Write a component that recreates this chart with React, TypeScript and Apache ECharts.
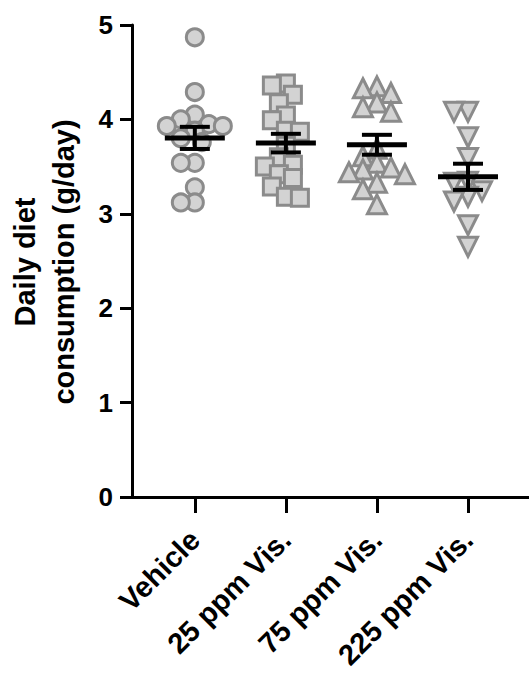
import React, { useEffect, useRef } from "react";
import * as echarts from "echarts";

// Group names shown under the x axis
const groups = ["Vehicle", "25 ppm Vis.", "75 ppm Vis.", "225 ppm Vis."];

// Daily diet consumption per animal (g/day)
const vehicle = [4.87, 4.29, 4.05, 4.0, 3.95, 3.93, 3.93, 3.88, 3.8, 3.76, 3.54, 3.54, 3.28, 3.12, 3.12];
const ppm25 = [4.38, 4.36, 4.26, 4.17, 4.04, 3.99, 3.88, 3.87, 3.72, 3.6, 3.52, 3.5, 3.42, 3.38, 3.29, 3.18, 3.17];
const ppm75 = [4.35, 4.33, 4.28, 4.18, 4.13, 4.08, 3.69, 3.61, 3.54, 3.49, 3.47, 3.44, 3.42, 3.33, 3.26, 3.1];
const ppm225 = [4.08, 4.08, 3.81, 3.59, 3.34, 3.33, 3.24, 3.18, 3.13, 2.88, 2.65];

const yTicks = [0, 1, 2, 3, 4, 5];

const FONT = '"Liberation Sans", Arial, Helvetica, sans-serif';
const FILL = "#d3d3d3";
const EDGE = "#8b8b8b";

function meanSem(v: number[]) {
  const n = v.length;
  const m = v.reduce((a, b) => a + b, 0) / n;
  const sd = Math.sqrt(v.reduce((a, b) => a + (b - m) * (b - m), 0) / (n - 1));
  return [m, sd / Math.sqrt(n)];
}

// Spread markers of similar value sideways (simple beeswarm in pixel units)
function swarm(values: number[], pxX: number, pxY: number, minDist: number, step: number) {
  const order = values.map((_, i) => i).sort((a, b) => values[b] - values[a]);
  const placed: { x: number; y: number }[] = [];
  const offsets = new Array(values.length).fill(0);
  for (const i of order) {
    const y = values[i] * pxY;
    for (let k = 0; k < 60; k++) {
      const m = k === 0 ? 0 : k % 2 === 1 ? -Math.ceil(k / 2) : Math.ceil(k / 2);
      const x = m * step;
      if (placed.every((p) => Math.hypot(p.x - x, p.y - y) >= minDist)) {
        placed.push({ x, y });
        offsets[i] = x / pxX;
        break;
      }
    }
  }
  return offsets;
}

export default function App() {
  const ref = useRef<HTMLDivElement>(null);

  useEffect(() => {
    if (!ref.current) return;
    const chart = echarts.init(ref.current, null, { renderer: "svg" });

    const sets = [vehicle, ppm25, ppm75, ppm225];
    const symbols = ["circle", "rect", "triangle", "triangle"];
    const rotations = [0, 0, 0, 180];
    const sizes = [17, 17, 19, 19];

    const pxX = 91;
    const pxY = 94.4;

    const scatterSeries = sets.map((vals, g) => {
      const offs = swarm(vals, pxX, pxY, 13, 7);
      return {
        type: "scatter",
        name: groups[g],
        symbol: symbols[g],
        symbolRotate: rotations[g],
        symbolSize: sizes[g],
        itemStyle: { color: FILL, borderColor: EDGE, borderWidth: 3, opacity: 1 },
        z: 2,
        data: vals.map((v, i) => [g + offs[i], v]),
      };
    });

    const stats = sets.map((vals, g) => {
      const [m, s] = meanSem(vals);
      return [g, m, s];
    });

    chart.setOption({
      animation: false,
      backgroundColor: "#ffffff",
      grid: {
        left: 132,
        right: 0,
        top: 25,
        bottom: 176,
        containLabel: false,
        outerBoundsMode: "none",
      },
      xAxis: {
        type: "value",
        min: -0.69,
        max: 3.67,
        splitLine: { show: false },
        axisLine: { show: true, onZero: false, lineStyle: { color: "#000", width: 3 } },
        axisTick: {
          show: true,
          length: 16,
          customValues: [0, 1, 2, 3],
          lineStyle: { color: "#000", width: 3 },
        },
        axisLabel: {
          customValues: [0, 1, 2, 3],
          formatter: (v: number) => groups[Math.round(v)] ?? "",
          rotate: 45,
          margin: 38,
          color: "#000",
          fontFamily: FONT,
          fontWeight: "bold",
          fontSize: 29,
        },
      },
      yAxis: {
        type: "value",
        min: yTicks[0],
        max: yTicks[yTicks.length - 1],
        interval: 1,
        splitLine: { show: false },
        axisLine: { show: true, onZero: false, lineStyle: { color: "#000", width: 3 } },
        axisTick: { show: true, length: 12, lineStyle: { color: "#000", width: 3 } },
        axisLabel: {
          margin: 19,
          color: "#000",
          fontFamily: FONT,
          fontWeight: "bold",
          fontSize: 26,
        },
      },
      graphic: [
        {
          type: "text",
          x: 44,
          y: 262,
          rotation: Math.PI / 2,
          style: {
            text: "Daily diet\nconsumption (g/day)",
            align: "center",
            verticalAlign: "middle",
            fontFamily: FONT,
            fontWeight: "bold",
            fontSize: 29,
            lineHeight: 39,
            fill: "#000",
          },
        },
      ],
      series: [
        ...scatterSeries,
        {
          type: "custom",
          z: 5,
          data: stats,
          renderItem: (_params: any, api: any) => {
            const x = api.value(0);
            const m = api.value(1);
            const s = api.value(2);
            const c = api.coord([x, m]);
            const top = api.coord([x, m + s])[1];
            const bot = api.coord([x, m - s])[1];
            const thin = { stroke: "#000", lineWidth: 4 };
            const thick = { stroke: "#000", lineWidth: 5 };
            return {
              type: "group",
              children: [
                { type: "line", shape: { x1: c[0] - 30, y1: c[1], x2: c[0] + 30, y2: c[1] }, style: thick },
                { type: "line", shape: { x1: c[0], y1: top, x2: c[0], y2: bot }, style: thin },
                { type: "line", shape: { x1: c[0] - 15, y1: top, x2: c[0] + 15, y2: top }, style: thin },
                { type: "line", shape: { x1: c[0] - 15, y1: bot, x2: c[0] + 15, y2: bot }, style: thin },
              ],
            };
          },
        },
      ],
    });

    return () => chart.dispose();
  }, []);

  return (
    <div
      ref={ref}
      style={{ position: "fixed", left: 0, top: 0, width: 529, height: 673, background: "#fff" }}
    />
  );
}
